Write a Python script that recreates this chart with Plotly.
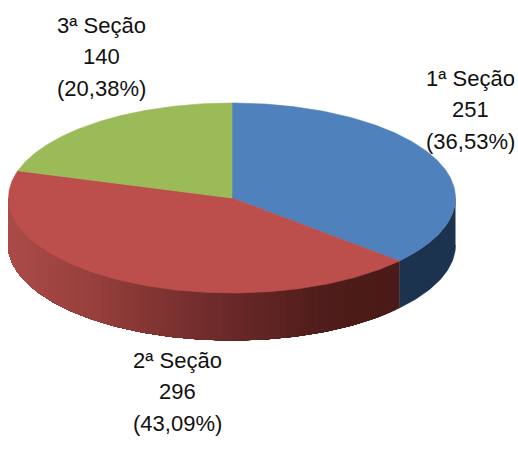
import numpy as np
import plotly.graph_objects as go

# data
sections = ["1ª Seção", "2ª Seção", "3ª Seção"]
counts = [251, 296, 140]
percents = ["(36,53%)", "(43,09%)", "(20,38%)"]

# style
top_colors = ["#4f81bd", "#bc4f4b", "#9bbb59"]
label_pos = [(470, 78), (177, 360), (101, 25)]
LINE_GAP = 31.5
CX, CY, RX, RY, DEPTH = 232, 198, 223.5, 95, 47
FONT = "Liberation Sans, Arial, sans-serif"
# side shading stops: (x pixel, rgb)
red_stops = [(9, (172, 76, 73)), (100, (150, 63, 60)), (200, (116, 46, 45)),
             (260, (98, 38, 37)), (320, (80, 30, 28)), (400, (74, 27, 24))]
blue_side = "#1c3350"

def pt(angle_deg, drop=0.0):
    a = np.radians(angle_deg)
    return CX + RX * np.sin(a), CY - RY * np.cos(a) + drop

def poly(xs, ys, color):
    return go.Scatter(x=list(xs), y=list(ys), mode="lines", fill="toself", fillcolor=color,
                      line=dict(color=color, width=0.6), hoverinfo="skip", showlegend=False)

fig = go.Figure()

total = sum(counts)
edges = np.concatenate([[0], np.cumsum(counts) / total * 360])

def side(a0, a1, color):
    th = np.linspace(a0, a1, max(int(abs(a1 - a0)) + 2, 2))
    x0, y0 = pt(th)
    x1, y1 = pt(th[::-1], DEPTH)
    return poly(np.r_[x0, x1], np.r_[y0, y1], color)

# blue outer side
fig.add_trace(side(90, edges[1], blue_side))

# red outer side, shaded: each strip runs to the end of the side so no seams appear
xs = [s[0] for s in red_stops]
for a in np.arange(edges[1], 270, 1.5):
    x, _ = pt(a)
    rgb = [np.interp(x, xs, [s[1][i] for s in red_stops]) for i in range(3)]
    fig.add_trace(side(a, 270, "rgb(%d,%d,%d)" % tuple(rgb)))

# top face
for i in range(3):
    th = np.linspace(edges[i], edges[i + 1], 200)
    x, y = pt(th)
    fig.add_trace(poly(np.r_[CX, x, CX], np.r_[CY, y, CY], top_colors[i]))

annotations = []
for name, n, pct, (lx, ly) in zip(sections, counts, percents, label_pos):
    for k, line in enumerate([name, str(n), pct]):
        annotations.append(dict(x=lx, y=ly + k * LINE_GAP, xref="x", yref="y", text=line,
                                showarrow=False, xanchor="center", yanchor="middle",
                                font=dict(family=FONT, size=22, color="#111111")))

fig.update_layout(
    width=518, height=461, margin=dict(l=0, r=0, t=0, b=0),
    paper_bgcolor="white", plot_bgcolor="white", showlegend=False,
    xaxis=dict(range=[0, 518], visible=False, fixedrange=True),
    yaxis=dict(range=[461, 0], visible=False, fixedrange=True),
    annotations=annotations,
)
fig.write_html(
    "out.html",
    config={"displayModeBar": False},
    post_script="document.body.style.margin='0';document.documentElement.style.overflow='hidden';",
)
